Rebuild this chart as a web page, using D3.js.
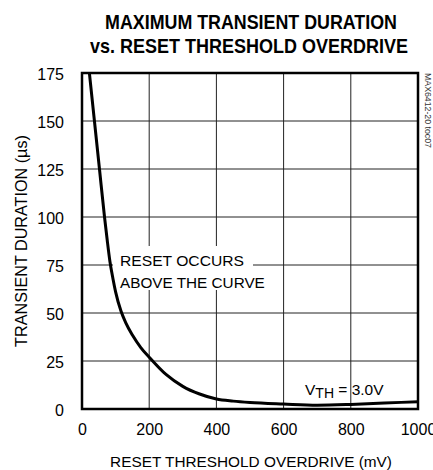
<!DOCTYPE html>
<html>
<head>
<meta charset="utf-8">
<script src="https://cdn.jsdelivr.net/npm/d3@7"></script>
<style>
  html, body { margin: 0; padding: 0; background: #fff; }
  svg { display: block; font-family: "Liberation Sans", Arial, sans-serif; }
</style>
</head>
<body>
<svg id="chart" width="433" height="470"></svg>
<script>
// ---- data ----
const titleLines = ["MAXIMUM TRANSIENT DURATION", "vs. RESET THRESHOLD OVERDRIVE"];
const overdrive = [22, 37, 52, 67, 75, 83, 92, 100, 116, 130, 150, 175, 200, 250, 300, 350, 400, 450, 500, 600, 700, 800, 900, 1000];
const duration  = [175, 150, 125, 100, 88, 77, 68, 61, 51, 45, 38.5, 32, 27, 18, 11.8, 7.8, 5.2, 4.1, 3.4, 2.6, 2.0, 2.4, 3.1, 3.8];
const xTicks = [0, 200, 400, 600, 800, 1000];
const yTicks = [0, 25, 50, 75, 100, 125, 150, 175];
const xLabel = "RESET THRESHOLD OVERDRIVE (mV)";
const yLabel = "TRANSIENT DURATION (\u00B5s)";
const noteLines = ["RESET OCCURS", "ABOVE THE CURVE"];
const figId = "MAX6412-20 toc07";

// ---- layout ----
const svg = d3.select("#chart");
const L = 82, R = 418, T = 73, B = 409;
const x = d3.scaleLinear().domain([0, 1000]).range([L, R]);
const y = d3.scaleLinear().domain([0, 175]).range([B, T]);

// place a text at (px,py) with rotation, horizontally scaled to a target width
function fitText(str, px, py, size, width, opts = {}) {
  const t = svg.append("text").attr("font-size", size).text(str);
  if (opts.bold) t.attr("font-weight", "bold");
  if (opts.anchor) t.attr("text-anchor", opts.anchor);
  if (opts.fill) t.attr("fill", opts.fill);
  const w = t.node().getComputedTextLength();
  const s = w > 0 ? width / w : 1;
  t.attr("transform", `translate(${px},${py}) rotate(${opts.rot || 0}) scale(${s},1)`);
  return t;
}

// title
fitText(titleLines[0], 251, 29, 21, 292, { bold: true, anchor: "middle" });
fitText(titleLines[1], 249, 53, 21, 318, { bold: true, anchor: "middle" });

// grid
const grid = svg.append("g").attr("stroke", "#222").attr("stroke-width", 1);
grid.selectAll("line.v").data(xTicks.filter(d => d > 0 && d < 1000)).enter().append("line")
  .attr("x1", d => x(d)).attr("x2", d => x(d)).attr("y1", T).attr("y2", B);
grid.selectAll("line.h").data(yTicks.filter(d => d > 0 && d < 175)).enter().append("line")
  .attr("y1", d => y(d)).attr("y2", d => y(d)).attr("x1", L).attr("x2", R);

// white box behind note
svg.append("rect").attr("x", 113).attr("y", 246).attr("width", 140).attr("height", 44).attr("fill", "#fff");

// note text
fitText(noteLines[0], 120, 266, 15.5, 124);
fitText(noteLines[1], 120, 288, 15.5, 145);

// curve
svg.append("clipPath").attr("id", "clip").append("rect")
  .attr("x", L).attr("y", T).attr("width", R - L).attr("height", B - T);
const pts = overdrive.map((d, i) => [d, duration[i]]);
svg.append("path").datum(pts)
  .attr("clip-path", "url(#clip)")
  .attr("fill", "none").attr("stroke", "#000").attr("stroke-width", 3)
  .attr("stroke-linejoin", "round")
  .attr("d", d3.line().x(d => x(d[0])).y(d => y(d[1])).curve(d3.curveMonotoneX));

// frame
svg.append("rect").attr("x", L).attr("y", T).attr("width", R - L).attr("height", B - T)
  .attr("fill", "none").attr("stroke", "#000").attr("stroke-width", 2.5);

// axes (labels only)
const xAxis = svg.append("g").attr("transform", `translate(0,${B})`)
  .call(d3.axisBottom(x).tickValues(xTicks).tickSize(0).tickPadding(15).tickFormat(d3.format("d")));
xAxis.select(".domain").remove();
xAxis.selectAll("text").attr("font-size", 16).attr("font-family", "Liberation Sans, Arial, sans-serif").attr("fill", "#000");

const yAxis = svg.append("g").attr("transform", `translate(${L},0)`)
  .call(d3.axisLeft(y).tickValues(yTicks).tickSize(0).tickPadding(18).tickFormat(d3.format("d")));
yAxis.select(".domain").remove();
yAxis.selectAll("text").attr("font-size", 16).attr("dy", "0.42em").attr("font-family", "Liberation Sans, Arial, sans-serif").attr("fill", "#000");

// axis titles
fitText(xLabel, 251, 467, 15.5, 282, { anchor: "middle" });
fitText(yLabel, 27, 241, 16, 212, { anchor: "middle", rot: -90 });

// VTH label
const vt = svg.append("text").attr("x", 305).attr("y", 395).attr("font-size", 15.5);
vt.append("tspan").text("V");
vt.append("tspan").attr("dy", 3).attr("font-size", 14).text("TH");
vt.append("tspan").attr("dy", -3).text(" = 3.0V");

// figure id
fitText(figId, 425, 73, 8.5, 75, { rot: 90, fill: "#333" });
</script>
</body>
</html>
